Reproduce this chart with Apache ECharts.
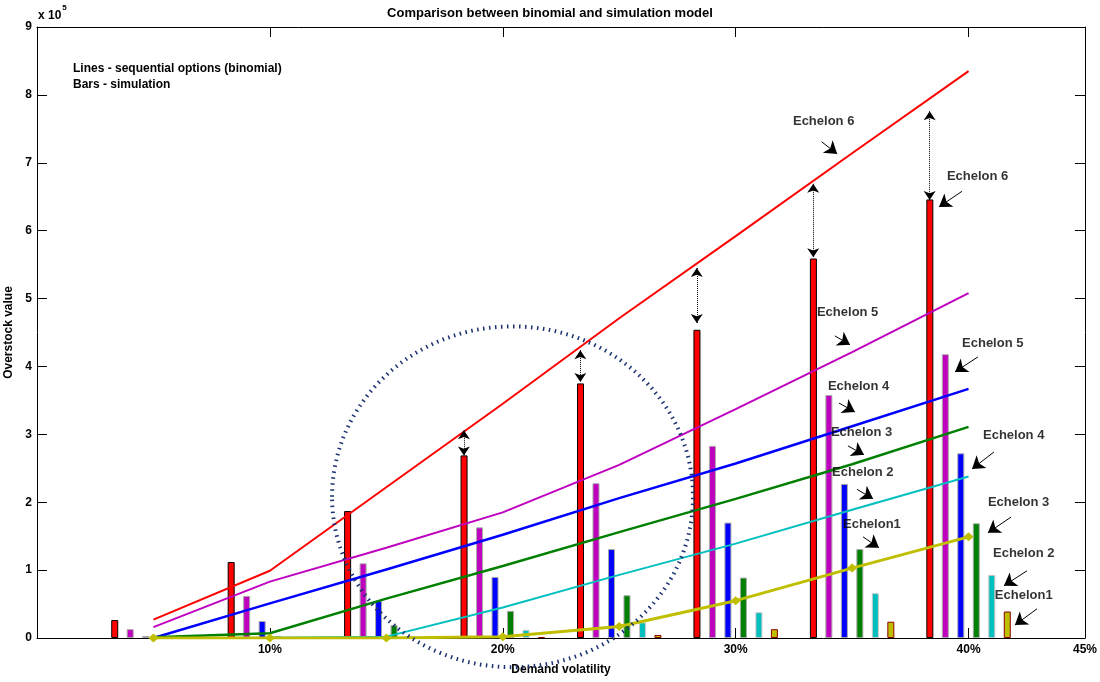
<!DOCTYPE html>
<html><head><meta charset="utf-8">
<script src="https://cdn.jsdelivr.net/npm/echarts@6/dist/echarts.min.js"></script>
<style>html,body{margin:0;padding:0;background:#fff}#c{width:1100px;height:682px}</style>
</head><body><div id="c"></div>
<script>
// ---------- data (values in units of 1e5) ----------
const volatility = [5, 10, 15, 20, 25, 30, 35, 40];
const seriesNames = ['Echelon 6', 'Echelon 5', 'Echelon 4', 'Echelon 3', 'Echelon 2', 'Echelon1'];

// Lines - sequential options (binomial)
const lineE6 = [0.27, 0.99, 2.22, 3.45, 4.71, 5.92, 7.14, 8.35];
const lineE5 = [0.16, 0.83, 1.33, 1.85, 2.55, 3.37, 4.21, 5.08];
const lineE4 = [0.00, 0.51, 1.01, 1.52, 2.06, 2.57, 3.12, 3.67];
const lineE3 = [0.01, 0.07, 0.58, 1.06, 1.56, 2.05, 2.56, 3.11];
const lineE2 = [0.00, 0.005, 0.02, 0.45, 0.93, 1.39, 1.89, 2.38];
const lineE1 = [0.00, 0.00, 0.00, 0.02, 0.17, 0.55, 1.03, 1.49];

// Bars - simulation
const barE6 = [0.265, 1.12, 1.87, 2.69, 3.75, 4.54, 5.59, 6.46];
const barE5 = [0.13, 0.62, 1.10, 1.63, 2.28, 2.83, 3.58, 4.18];
const barE4 = [0.03, 0.25, 0.55, 0.90, 1.31, 1.70, 2.27, 2.72];
const barE3 = [0.005, 0.03, 0.19, 0.40, 0.63, 0.89, 1.31, 1.69];
const barE2 = [0.002, 0.005, 0.03, 0.12, 0.23, 0.38, 0.66, 0.93];
const barE1 = [0.001, 0.002, 0.01, 0.015, 0.045, 0.13, 0.24, 0.39];

const xTickValues = [10, 20, 30, 40, 45];
const xTickLabels = ['10%', '20%', '30%', '40%', '45%'];
const yTickLabels = ['0', '1', '2', '3', '4', '5', '6', '7', '8', '9'];

// annotation texts [x, y, text]
const labelNotes = [
  [32.46, 7.61, 'Echelon 6'], [39.07, 6.80, 'Echelon 6'],
  [33.49, 4.79, 'Echelon 5'], [39.72, 4.34, 'Echelon 5'],
  [33.96, 3.71, 'Echelon 4'], [40.62, 2.99, 'Echelon 4'],
  [34.09, 3.03, 'Echelon 3'], [40.83, 1.99, 'Echelon 3'],
  [34.14, 2.44, 'Echelon 2'], [41.05, 1.24, 'Echelon 2'],
  [34.61, 1.68, 'Echelon1'], [41.13, 0.62, 'Echelon1']
];
// pointer arrows [x1, y1, x2(head), y2(head)]
const pointerArrows = [
  [33.69, 7.31, 34.36, 7.13], [34.26, 4.45, 34.91, 4.32], [34.44, 3.46, 35.12, 3.33],
  [34.82, 2.83, 35.51, 2.70], [35.21, 2.19, 35.90, 2.05], [35.47, 1.49, 36.15, 1.33],
  [39.72, 6.58, 38.73, 6.35], [40.40, 4.14, 39.42, 3.92], [41.09, 2.74, 40.15, 2.49],
  [41.82, 1.78, 40.83, 1.55], [42.51, 0.99, 41.52, 0.77], [42.94, 0.43, 41.99, 0.19]
];
// dotted double arrows between line and bar [x, yTop, yBottom]
const gapArrows = [
  [18.33, 3.06, 2.69], [23.33, 4.24, 3.77], [28.33, 5.45, 4.64],
  [33.33, 6.69, 5.61], [38.33, 7.76, 6.45]
];
// highlighted region ellipse [cx, cy, rx, ry] in data units
const circleNote = [20.42, 2.08, 7.75, 2.51];

// ---------- styles ----------
const lineSeries = [lineE6, lineE5, lineE4, lineE3, lineE2, lineE1];
const barSeries = [barE6, barE5, barE4, barE3, barE2, barE1];
const colors = ['#FF0000', '#BF00BF', '#0000FF', '#008000', '#00BFBF', '#BFBF00'];
const barBorders = ['#000000', '#A8A8A8', '#A8A8A8', '#A8A8A8', '#C8C8C8', '#8B0000'];
const lineWidths = [2, 2, 2.5, 2.5, 2, 3];
const barSpacing = 0.665;
const FONT = "'Liberation Sans', Arial, Helvetica, sans-serif";

const chart = echarts.init(document.getElementById('c'), null, {renderer: 'canvas'});

const series = [];
barSeries.forEach((vals, i) => {
  const s = {
    type: 'bar', name: seriesNames[i] + ' sim',
    xAxisIndex: 0, yAxisIndex: 0,
    data: volatility.map((v, k) => [v + (i - 2.5) * barSpacing, vals[k]]),
    barWidth: 7, barGap: '-100%', z: 2, silent: true,
    itemStyle: {color: colors[i], borderColor: barBorders[i], borderWidth: 1}
  };
  if (i === 0) {
    s.markLine = {
      silent: true, animation: false, symbol: ['arrow', 'arrow'], symbolSize: 9,
      label: {show: false},
      lineStyle: {type: 'dotted', color: '#000', width: 1},
      data: gapArrows.map(a => [{coord: [a[0], a[1]]}, {coord: [a[0], a[2]]}])
    };
  }
  series.push(s);
});
lineSeries.forEach((vals, i) => {
  series.push({
    type: 'line', name: seriesNames[i] + ' binomial',
    xAxisIndex: 0, yAxisIndex: 0,
    data: volatility.map((v, k) => [v, vals[k]]),
    symbol: i === 5 ? 'diamond' : 'none', symbolSize: [10, 9], showSymbol: i === 5,
    lineStyle: {color: colors[i], width: lineWidths[i]},
    itemStyle: {color: colors[i]},
    z: 3, silent: true
  });
});
series.push({
  type: 'scatter', name: 'notes', xAxisIndex: 0, yAxisIndex: 0,
  data: labelNotes.map(p => ({value: [p[0], p[1]], name: p[2]})),
  symbolSize: 0, z: 5, silent: true,
  label: {show: true, position: 'right', distance: 0, formatter: p => p.name,
          fontFamily: FONT, fontSize: 13, fontWeight: 'bold', color: '#000'},
  markLine: {
    silent: true, animation: false, symbol: ['none', 'arrow'], symbolSize: 12,
    label: {show: false},
    lineStyle: {type: 'solid', color: '#000', width: 1},
    data: pointerArrows.map(a => [{coord: [a[0], a[1]]}, {coord: [a[2], a[3]]}])
  }
});

const axisLineStyle = {show: true, onZero: false, lineStyle: {color: '#000', width: 1}};

chart.setOption({
  animation: false,
  backgroundColor: '#fff',
  title: {
    text: 'Comparison between binomial and simulation model',
    left: 'center', top: 2,
    textStyle: {fontFamily: FONT, fontSize: 13, fontWeight: 'bold', color: '#000'}
  },
  grid: {left: 37, right: 15, top: 27, bottom: 44, containLabel: false, outerBoundsMode: 'none'},
  xAxis: [
    {
      type: 'value', min: 0, max: 45, position: 'bottom',
      axisLine: axisLineStyle, splitLine: {show: false},
      name: 'Demand volatility', nameLocation: 'middle', nameGap: 26,
      nameTextStyle: {fontFamily: FONT, fontSize: 12, fontWeight: 'bold', color: '#000'},
      axisTick: {show: true, inside: true, length: 10, customValues: xTickValues.slice(0, 4), lineStyle: {color: '#000'}},
      axisLabel: {show: true, customValues: xTickValues, margin: 6,
        formatter: v => xTickLabels[xTickValues.indexOf(v)] || '',
        fontFamily: FONT, fontSize: 12, fontWeight: 'bold', color: '#000'}
    },
    {
      type: 'value', min: 0, max: 45, position: 'top',
      axisLine: axisLineStyle, splitLine: {show: false},
      axisTick: {show: true, inside: true, length: 10, customValues: xTickValues.slice(0, 4), lineStyle: {color: '#000'}},
      axisLabel: {show: false}
    }
  ],
  yAxis: [
    {
      type: 'value', min: 0, max: 9, interval: 1, position: 'left',
      axisLine: axisLineStyle, splitLine: {show: false},
      name: 'Overstock value', nameLocation: 'middle', nameGap: 21, nameRotate: 90,
      nameTextStyle: {fontFamily: FONT, fontSize: 12, fontWeight: 'bold', color: '#000'},
      axisTick: {show: true, inside: true, length: 10, lineStyle: {color: '#000'}},
      axisLabel: {show: true, margin: 5, formatter: v => yTickLabels[v] || '',
        fontFamily: FONT, fontSize: 12, fontWeight: 'bold', color: '#000'}
    },
    {
      type: 'value', min: 0, max: 9, interval: 1, position: 'right',
      axisLine: axisLineStyle, splitLine: {show: false},
      axisTick: {show: true, inside: true, length: 10, lineStyle: {color: '#000'}},
      axisLabel: {show: false}
    }
  ],
  graphic: [
    {id: 'exp', type: 'text', left: 38, top: 4, z: 10,
     style: {text: '{a|x 10}{b|5}', rich: {
       a: {fontFamily: FONT, fontSize: 12, fontWeight: 'bold', fill: '#000', verticalAlign: 'bottom', lineHeight: 18},
       b: {fontFamily: FONT, fontSize: 8, fontWeight: 'bold', fill: '#000', verticalAlign: 'top', lineHeight: 18, padding: [0, 0, 8, 1]}
     }}},
    {id: 'note1', type: 'text', left: 73, top: 63, z: 10,
     style: {text: 'Lines - sequential options (binomial)', fontFamily: FONT, fontSize: 12, fontWeight: 'bold', fill: '#000'}},
    {id: 'note2', type: 'text', left: 73, top: 79, z: 10,
     style: {text: 'Bars - simulation', fontFamily: FONT, fontSize: 12, fontWeight: 'bold', fill: '#000'}}
  ],
  series: series
});

// dotted ellipse placed through the axes scales
const c0 = chart.convertToPixel({xAxisIndex: 0, yAxisIndex: 0}, [circleNote[0], circleNote[1]]);
const c1 = chart.convertToPixel({xAxisIndex: 0, yAxisIndex: 0}, [circleNote[0] + circleNote[2], circleNote[1] + circleNote[3]]);
chart.setOption({
  graphic: [{
    id: 'ring', type: 'ellipse', z: 20, silent: true,
    shape: {cx: c0[0], cy: c0[1], rx: c1[0] - c0[0], ry: c0[1] - c1[1]},
    style: {fill: 'none', stroke: '#1C3270', lineWidth: 4, lineDash: [1.5, 4.5]}
  }]
});
</script>
</body></html>
